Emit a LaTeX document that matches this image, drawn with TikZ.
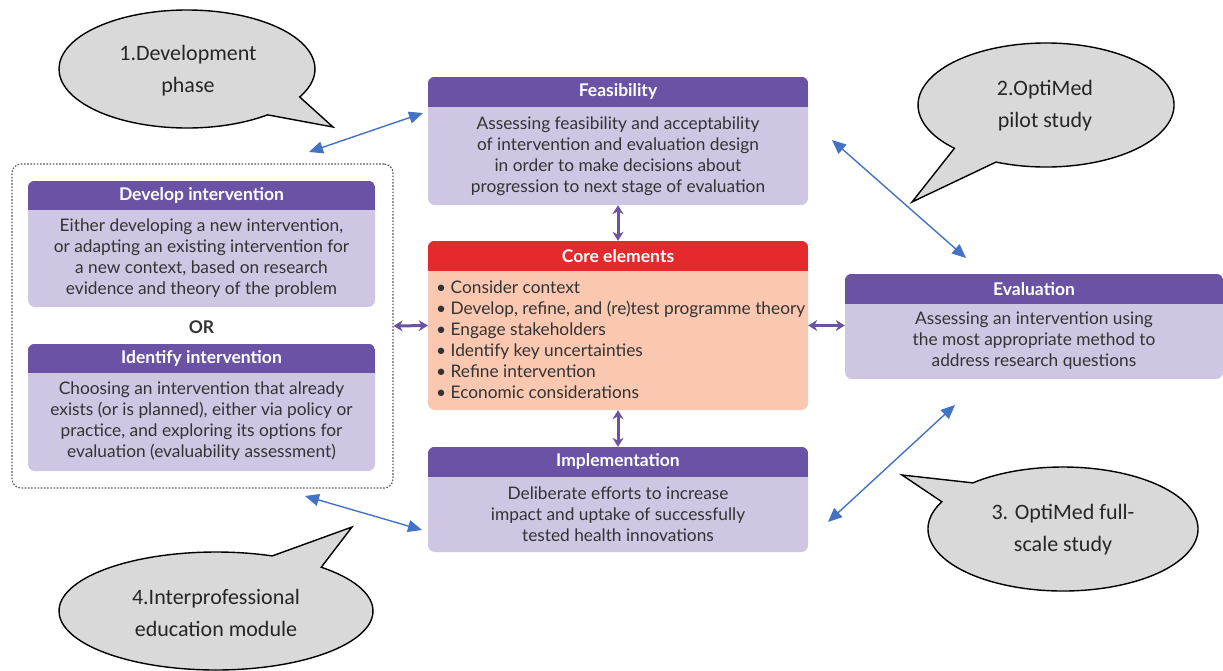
\documentclass[tikz,border=0pt]{standalone}
\usepackage{fontspec}
\setmainfont{Lato}
\newfontfamily\callfont{Carlito}
\usetikzlibrary{arrows.meta,calc}
\definecolor{hdr}{HTML}{6A53A4}
\definecolor{lav}{HTML}{CEC6E3}
\definecolor{corered}{HTML}{E42A2D}
\definecolor{salmon}{HTML}{FAC7B1}
\definecolor{txt}{HTML}{333333}
\definecolor{blu}{HTML}{4472C4}
\definecolor{bub}{HTML}{D9D9D9}
\newcommand\stagebox[9]{%
  \node[draw=none, fill=#7, rounded corners=7pt, minimum width=#4pt, minimum height=#5pt, inner sep=0pt] (#1) at (#2,#3) {};
  \begin{scope}
    \clip[rounded corners=7pt] (#1.north west) rectangle (#1.south east);
    \fill[#6] (#1.north west) rectangle ([yshift=-#9pt]#1.north east);
  \end{scope}
  \node[hdrtext] (#1-t) at ([yshift=-#9pt/2]#1.north) {#8};
}
\begin{document}
\begin{tikzpicture}[x=1pt,y=-1pt,
  hdrtext/.style={text=white, font=\fontsize{17.5}{20}\selectfont\bfseries, inner sep=0pt},
  bodytext/.style={text=txt, font=\fontsize{17.3}{21}\selectfont, align=center, inner sep=0pt},
  parrow/.style={draw=hdr, line width=3pt, {Stealth[length=9pt,width=11pt]}-{Stealth[length=9pt,width=11pt]}},
  barrow/.style={draw=blu, line width=1.4pt, {Triangle[length=14pt,width=12pt]}-{Triangle[length=14pt,width=12pt]}},
  bubble/.style={draw=black, line width=1.4pt, fill=bub, line join=miter},
  bubtext/.style={font=\callfont\fontsize{22}{32}\selectfont, align=center, text=black!85, inner sep=0pt}
]
\useasboundingbox (0,0) rectangle (1223,670);
\fill[white] (0,0) rectangle (1223,670);

% dashed frame
\node[draw=black!65, dash pattern=on 1.6pt off 1.6pt, line width=1.2pt, rounded corners=9pt, minimum width=381pt, minimum height=324pt, inner sep=0pt] (frame) at (202.5,326) {};

% stage boxes
\stagebox{feas}{618}{141}{380}{128}{hdr}{lav}{Feasibility}{30}
\node[bodytext] (feas-b) at (618,156) {Assessing feasibility and acceptability\\of intervention and evaluation design\\in order to make decisions about\\progression to next stage of evaluation};

\stagebox{core}{618}{325.5}{380}{169}{corered}{salmon}{Core elements}{30}
\node[bodytext, align=left, anchor=west] (core-b) at (436,340) {\textbullet\ Consider context\\\textbullet\ Develop, refine, and (re)test programme theory\\\textbullet\ Engage stakeholders\\\textbullet\ Identify key uncertainties\\\textbullet\ Refine intervention\\\textbullet\ Economic considerations};

\stagebox{impl}{618}{499.5}{380}{105}{hdr}{lav}{Implementation}{30}
\node[bodytext] (impl-b) at (618,514) {Deliberate efforts to increase\\impact and uptake of successfully\\tested health innovations};

\stagebox{eval}{1034}{326.5}{378}{105}{hdr}{lav}{Evaluation}{30}
\node[bodytext] (eval-b) at (1034,341) {Assessing an intervention using\\the most appropriate method to\\address research questions};

\stagebox{dev}{201.5}{244}{347}{126}{hdr}{lav}{Develop intervention}{29}
\node[bodytext] (dev-b) at (201.5,258.5) {Either developing a new intervention,\\or adapting an existing intervention for\\a new context, based on research\\evidence and theory of the problem};

\node[bodytext, font=\fontsize{17.5}{20}\selectfont\bfseries] (or) at (201.5,327) {OR};

\stagebox{idf}{201.5}{407.5}{347}{127}{hdr}{lav}{Identify intervention}{29}
\node[bodytext] (idf-b) at (201.5,421.5) {Choosing an intervention that already\\exists (or is planned), either via policy or\\practice, and exploring its options for\\evaluation (evaluability assessment)};

% purple arrows
\draw[parrow] (feas.south) -- (core.north);
\draw[parrow] (core.south) -- (impl.north);
\draw[parrow] (frame.east) -- (core.west);
\draw[parrow] (core.east) -- (eval.west |- core.east);

% callouts
\draw[bubble] ([shift={(187,69)}]28.3:128 and 59) -- (333,127) -- ([shift={(187,69)}]51:128 and 59)
  arc[start angle=51, end angle=388.3, x radius=128, y radius=59] -- cycle;
\node[bubtext] (b1) at (188,71) {1.Development\\phase};

\draw[bubble] ([shift={(1046,105)}]135.7:128 and 62) -- (912,202) -- ([shift={(1046,105)}]113:128 and 62)
  arc[start angle=113, end angle=-224.3, x radius=128, y radius=62] -- cycle;
\node[bubtext] (b2) at (1045,106) {2.OptiMed\\pilot study};

\draw[bubble] ([shift={(1063,529)}]228.1:135 and 62) -- (902,475) -- ([shift={(1063,529)}]206.1:135 and 62)
  arc[start angle=206.1, end angle=-131.9, x radius=135, y radius=62] -- cycle;
\node[bubtext] (b3) at (1063,530) {3. OptiMed full-\\scale study};

\draw[bubble] ([shift={(216,611)}]-69:157 and 59) -- (352,527) -- ([shift={(216,611)}]-47.9:157 and 59)
  arc[start angle=-47.9, end angle=291, x radius=157, y radius=59] -- cycle;
\node[bubtext] (b4) at (216,613) {4.Interprofessional\\education module};

% blue arrows
\coordinate (a1s) at (309,152); \coordinate (a1e) at (423,113);
\coordinate (a2s) at (832,140); \coordinate (a2e) at (966,258);
\coordinate (a3s) at (828,522); \coordinate (a3e) at (955,405);
\coordinate (a4s) at (305,496); \coordinate (a4e) at (422,530);
\draw[barrow] (a1s) -- (a1e);
\draw[barrow] (a2s) -- (a2e);
\draw[barrow] (a3s) -- (a3e);
\draw[barrow] (a4s) -- (a4e);
\end{tikzpicture}
\end{document}
